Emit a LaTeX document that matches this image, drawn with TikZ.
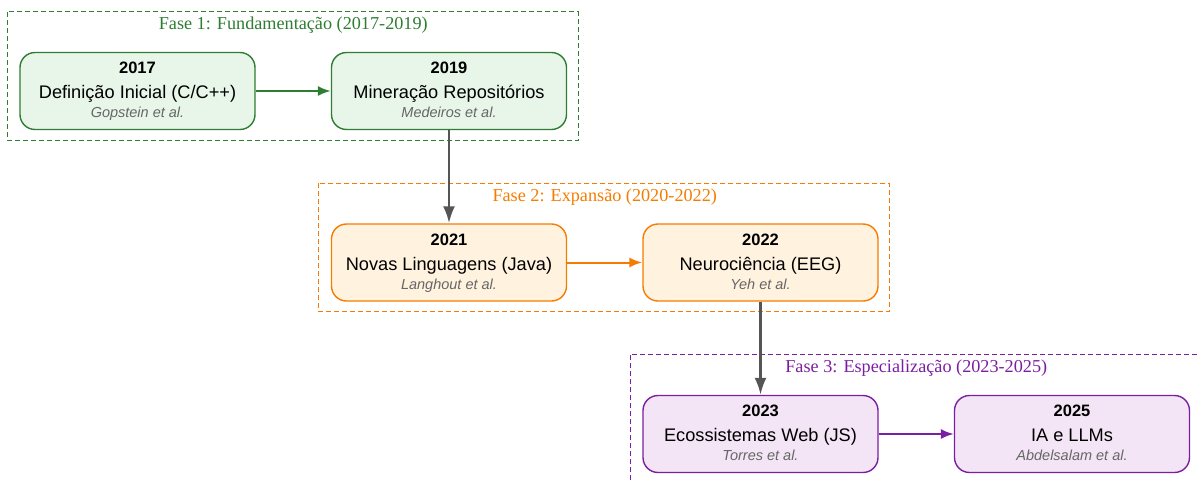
\documentclass[tikz,border=0pt]{standalone}
\usepackage{fontspec}
\setmainfont{Liberation Sans}
\newfontfamily\fasefont{Liberation Serif}
\usetikzlibrary{arrows.meta,calc}

\definecolor{verde}{HTML}{2E7D32}
\definecolor{verdeclaro}{HTML}{E8F5E9}
\definecolor{laranja}{HTML}{F57C00}
\definecolor{laranjaclaro}{HTML}{FFF3E0}
\definecolor{roxo}{HTML}{7B1FA2}
\definecolor{roxoclaro}{HTML}{F3E5F5}
\definecolor{cinza}{HTML}{555555}
\definecolor{autor}{HTML}{666666}

% year, title, authors
\newcommand{\etapa}[3]{{\fontsize{16.5}{19}\selectfont\bfseries\rule{0pt}{13pt}#1}\\[6pt]
	{\fontsize{18.2}{19}\selectfont\rule[-5pt]{0pt}{19pt}#2}\\
	{\fontsize{14.5}{19}\selectfont\itshape\color{autor}\rule[-4pt]{0pt}{15pt}#3}}

\begin{document}
\begin{tikzpicture}[node distance={311.5pt},
	marco/.style = {draw, rounded corners=15pt, line width=1.4pt, minimum width=235pt, minimum height=77pt, align=center, inner sep=0pt, font=\fontsize{18}{19}\selectfont},
	fase/.style = {dash pattern=on 5pt off 3pt, line width=1.2pt},
	rotulo/.style = {font=\fasefont\fontsize{18.2}{19}\selectfont, below, inner sep=0pt},
	seta/.style = {line width=2pt, -{Latex[length=13pt,width=10pt]}},
	liga/.style = {cinza, line width=2.6pt, -{Latex[length=17pt,width=12pt]}}]
	\useasboundingbox (0pt,0pt) rectangle (1199pt,-482pt);
	% fase 1
	\node[marco, draw=verde, fill=verdeclaro] (a2017) at (137.5pt,-91pt) {\etapa{2017}{Definição Inicial (C/C++)}{Gopstein et al.}};
	\node[marco, draw=verde, fill=verdeclaro] (a2019) [right of=a2017] {\etapa{2019}{Mineração Repositórios}{Medeiros et al.}};
	% fase 2
	\node[marco, draw=laranja, fill=laranjaclaro] (a2021) [below of=a2019, node distance=171.5pt] {\etapa{2021}{Novas Linguagens (Java)}{Langhout et al.}};
	\node[marco, draw=laranja, fill=laranjaclaro] (a2022) [right of=a2021] {\etapa{2022}{Neurociência (EEG)}{Yeh et al.}};
	% fase 3
	\node[marco, draw=roxo, fill=roxoclaro] (a2023) [below of=a2022, node distance=171.5pt] {\etapa{2023}{Ecossistemas Web (JS)}{Torres et al.}};
	\node[marco, draw=roxo, fill=roxoclaro] (a2025) [right of=a2023] {\etapa{2025}{IA e LLMs}{Abdelsalam et al.}};

	\draw[fase, color=verde] ([shift={(-12pt,40pt)}]a2017.north west) rectangle ([shift={(11pt,-10pt)}]a2019.south east);
	\draw[fase, color=laranja] ([shift={(-12pt,40pt)}]a2021.north west) rectangle ([shift={(11pt,-10pt)}]a2022.south east);
	\draw[fase, color=roxo] ([shift={(-12pt,40pt)}]a2023.north west) rectangle ([shift={(11pt,-10pt)}]a2025.south east);
	\node[rotulo, text=verde] (r1) at ($(a2017.north)!0.5!(a2019.north)+(0pt,35pt)$) {Fase 1: Fundamentação (2017-2019)};
	\node[rotulo, text=laranja] (r2) at ($(a2021.north)!0.5!(a2022.north)+(0pt,35pt)$) {Fase 2: Expansão (2020-2022)};
	\node[rotulo, text=roxo] (r3) at ($(a2023.north)!0.5!(a2025.north)+(0pt,35pt)$) {Fase 3: Especialização (2023-2025)};

	\draw[seta, verde] (a2017) to (a2019);
	\draw[liga] (a2019) to (a2021);
	\draw[seta, laranja] (a2021) to (a2022);
	\draw[liga] (a2022) to (a2023);
	\draw[seta, roxo] (a2023) to (a2025);
\end{tikzpicture}
\end{document}
